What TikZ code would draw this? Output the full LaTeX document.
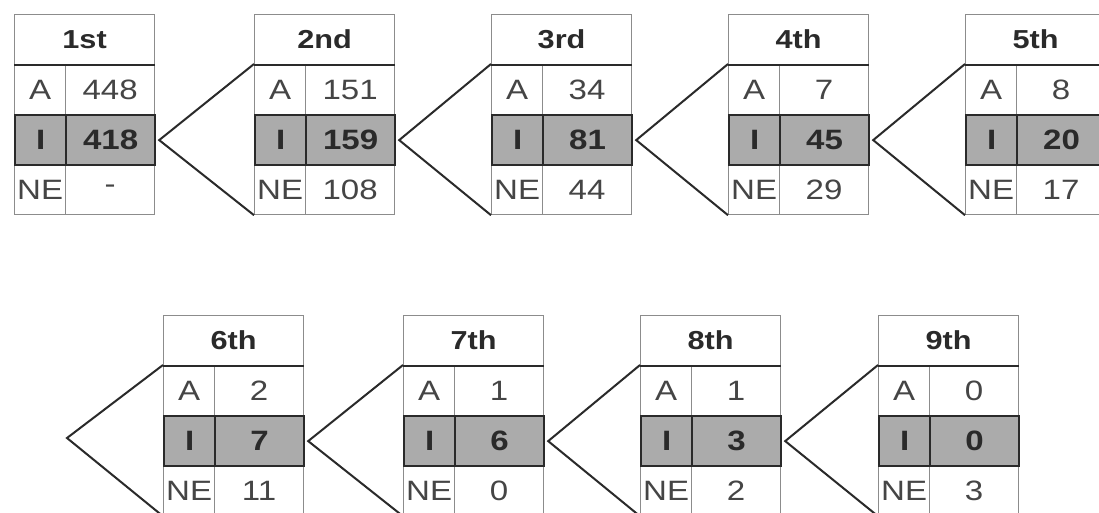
\documentclass[tikz,border=0pt]{standalone}
\usepackage{fontspec}
\setmainfont{Liberation Sans}[FakeStretch=1.18]
\usetikzlibrary{calc}
\definecolor{thinc}{HTML}{8C8C8C}
\definecolor{darkc}{HTML}{2A2A2A}
\definecolor{ifill}{HTML}{ABABAB}
\definecolor{txtc}{HTML}{454545}
\tikzset{
  cell/.style={draw=thinc, line width=1.2pt, minimum height=50pt, inner sep=0pt,
    text=txtc, font=\fontsize{28}{30}\selectfont, anchor=north west},
  hcell/.style={cell, minimum width=140pt, text=darkc, font=\fontsize{26}{28}\selectfont\bfseries},
  icell/.style={cell, fill=ifill, draw=darkc, line width=2.2pt, text=darkc,
    font=\fontsize{28}{30}\selectfont\bfseries},
  hline/.style={draw=darkc, line width=2pt},
  conn/.style={draw=darkc, line width=2pt, line join=miter},
}
\newcommand\tabl[7]{%
  \node[hcell] (#1h) at (#2,#3) {#4};
  \node[cell, minimum width=51pt] (#1a1) at (#2,#3+50) {A};
  \node[cell, minimum width=89pt] (#1a2) at (#2+51,#3+50) {#5};
  \node[cell, minimum width=51pt] (#1n1) at (#2,#3+150) {NE};
  \node[cell, minimum width=89pt] (#1n2) at (#2+51,#3+150) {#7};
  \node[icell, minimum width=51pt] (#1i1) at (#2,#3+100) {I};
  \node[icell, minimum width=89pt] (#1i2) at (#2+51,#3+100) {#6};
  \draw[hline] (#1h.south west) -- (#1h.south east);
}
\begin{document}
\begin{tikzpicture}[x=1pt,y=-1pt]
\useasboundingbox[fill=white] (0,0) rectangle (1099,512);
\tabl{t1}{14}{14}{1st}{448}{418}{-}
\tabl{t2}{254}{14}{2nd}{151}{159}{108}
\tabl{t3}{491}{14}{3rd}{34}{81}{44}
\tabl{t4}{728}{14}{4th}{7}{45}{29}
\tabl{t5}{965}{14}{5th}{8}{20}{17}
\tabl{t6}{163}{315}{6th}{2}{7}{11}
\tabl{t7}{403}{315}{7th}{1}{6}{0}
\tabl{t8}{640}{315}{8th}{1}{3}{2}
\tabl{t9}{878}{315}{9th}{0}{0}{3}
\draw[conn] (t2a1.north west) -- ($(t1i2.east)+(3,0)$) -- (t2n1.south west);
\draw[conn] (t3a1.north west) -- ($(t2i2.east)+(3,0)$) -- (t3n1.south west);
\draw[conn] (t4a1.north west) -- ($(t3i2.east)+(3,0)$) -- (t4n1.south west);
\draw[conn] (t5a1.north west) -- ($(t4i2.east)+(3,0)$) -- (t5n1.south west);
\coordinate (free) at (67,438);
\draw[conn] (t6a1.north west) -- (free) -- (t6n1.south west);
\draw[conn] (t7a1.north west) -- ($(t6i2.east)+(3,0)$) -- (t7n1.south west);
\draw[conn] (t8a1.north west) -- ($(t7i2.east)+(3,0)$) -- (t8n1.south west);
\draw[conn] (t9a1.north west) -- ($(t8i2.east)+(3,0)$) -- (t9n1.south west);
\end{tikzpicture}
\end{document}
